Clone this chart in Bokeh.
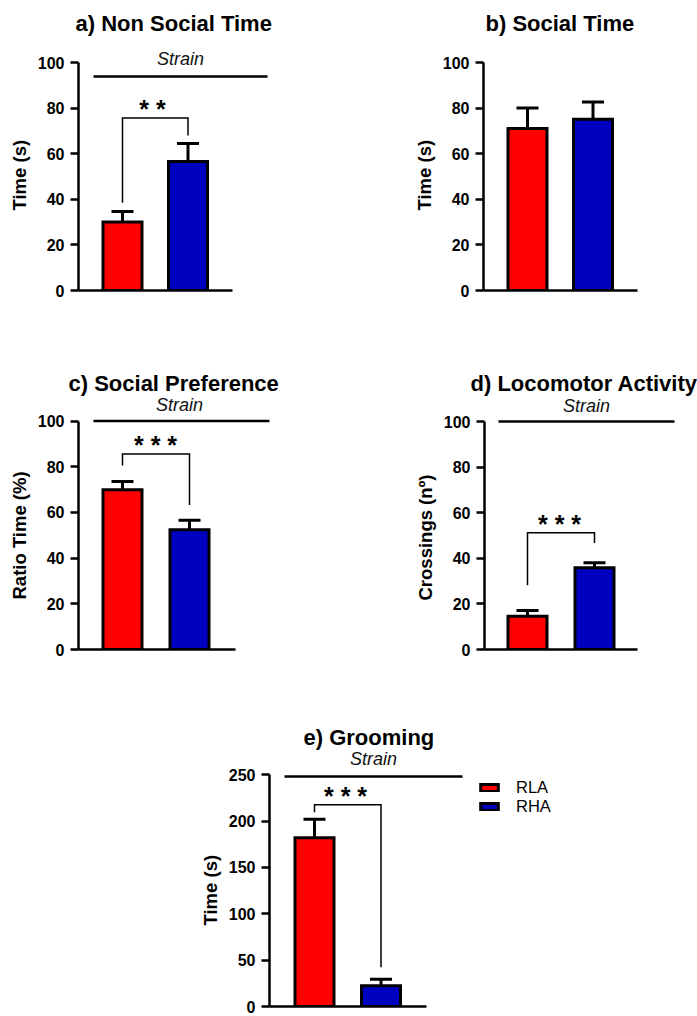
from bokeh.plotting import figure
from bokeh.layouts import column, row
from bokeh.models import FixedTicker, Legend, LegendItem, Range1d, Label, Title
from bokeh.embed import file_html
from bokeh.resources import INLINE

FONT = "Liberation Sans"

strains = ["RLA", "RHA"]
bar_colors = ["#ff0000", "#0000c0"]

# a) Non Social Time
nonsocial_mean = [30.0, 56.6]
nonsocial_sem = [4.6, 7.9]
# b) Social Time
social_mean = [71.1, 75.1]
social_sem = [8.9, 7.6]
# c) Social Preference
pref_mean = [69.9, 52.4]
pref_sem = [3.7, 4.2]
# d) Locomotor Activity
loco_mean = [14.6, 35.9]
loco_sem = [2.5, 2.1]
# e) Grooming
groom_mean = [182.0, 22.5]
groom_sem = [20.0, 7.0]

ticks_100 = [0, 20, 40, 60, 80, 100]
ticks_250 = [0, 50, 100, 150, 200, 250]


def make_panel(title, ylabel, means, sems, ticks, W, H, L, T, Y0, YT, C1, S,
               axis_end, title_left, title_st, ylabel_off, strain=None,
               bracket=None, stars=None, legend=None):
    top_val = ticks[-1]
    k = (Y0 - YT) / top_val
    y_end = (Y0 - T) / k
    x_start = 1 - (C1 - L) / S
    x_end = x_start + (W - L) / S

    def dx(px):
        return 1 + (px - C1) / S

    def dy(py):
        return (Y0 - py) / k

    p = figure(width=W, height=H, x_range=Range1d(x_start, x_end),
               y_range=Range1d(0, y_end), output_backend="svg",
               toolbar_location=None, min_border_left=int(L), min_border_right=0,
               min_border_top=int(T), min_border_bottom=int(H - Y0))
    p.outline_line_color = None
    p.grid.visible = False
    p.background_fill_color = "white"

    p.title.text = title
    p.title.align = "left"
    p.title.offset = title_left - L
    p.title.vertical_align = "bottom"
    p.title.standoff = title_st
    p.title.text_font = FONT
    p.title.text_font_style = "bold"
    p.title.text_font_size = "22px"
    p.title.text_color = "black"

    yax = p.yaxis[0]
    yax.ticker = FixedTicker(ticks=ticks)
    yax.bounds = (0, top_val)
    yax.axis_line_width = 2.5
    yax.axis_line_color = "black"
    yax.major_tick_line_width = 2.5
    yax.major_tick_line_color = "black"
    yax.major_tick_out = 8
    yax.major_tick_in = 0
    yax.minor_tick_line_color = None
    yax.major_label_text_font = FONT
    yax.major_label_text_font_style = "bold"
    yax.major_label_text_font_size = "16px"
    yax.major_label_text_color = "black"
    yax.major_label_standoff = 6

    p.add_layout(Title(text=ylabel, align="left", offset=ylabel_off,
                       vertical_align="bottom", standoff=10, text_font=FONT,
                       text_font_style="bold", text_font_size="18.5px",
                       text_color="black"), "left")

    xax = p.xaxis[0]
    xax.ticker = FixedTicker(ticks=[])
    xax.bounds = (x_start, dx(axis_end))
    xax.axis_line_width = 2.5
    xax.axis_line_color = "black"
    xax.major_tick_line_color = None
    xax.minor_tick_line_color = None
    xax.major_label_text_font_size = "0px"

    renderers = []
    bw = 39.0 / S
    cap = 11.0 / S
    for i, (s, c) in enumerate(zip(strains, bar_colors)):
        x = i + 1
        m = means[i]
        e = sems[i]
        p.segment(x0=[x], y0=[m], x1=[x], y1=[m + e], line_color="black",
                  line_width=3)
        p.segment(x0=[x - cap], y0=[m + e], x1=[x + cap], y1=[m + e],
                  line_color="black", line_width=3)
        r = p.vbar(x=[x], top=[m], bottom=0, width=bw, fill_color=c,
                   line_color="black", line_width=3, line_join="miter")
        renderers.append(r)

    if bracket is not None:
        top, lb, rb = bracket
        p.line(x=[1, 1, 2, 2], y=[lb, top, top, rb], line_color="black",
               line_width=1.5, line_join="miter")
    if stars is not None:
        txt, sx, sy = stars
        p.add_layout(Label(x=dx(sx), y=dy(sy + 5), text=txt,
                           text_align="center", text_baseline="alphabetic",
                           text_font=FONT, text_font_style="bold",
                           text_font_size="25px", text_color="black"))
    if strain is not None:
        x0, x1, yv, tx, ty = strain
        p.segment(x0=[dx(x0)], y0=[yv], x1=[dx(x1)], y1=[yv],
                  line_color="black", line_width=2.5)
        p.add_layout(Label(x=dx(tx), y=dy(ty), text="Strain",
                           text_align="center", text_baseline="middle",
                           text_font=FONT, text_font_style="italic",
                           text_font_size="18px", text_color="#111111"))

    if legend is not None:
        leg = Legend(items=[LegendItem(label=s, renderers=[r])
                            for s, r in zip(strains, renderers)],
                     location=legend, orientation="vertical",
                     glyph_width=22, glyph_height=9, label_standoff=16,
                     label_text_font=FONT, label_text_font_size="16.5px",
                     label_text_color="black", label_height=16,
                     padding=0, margin=0, spacing=0,
                     border_line_color=None, background_fill_alpha=0)
        p.add_layout(leg)
    return p


pa = make_panel("a) Non Social Time", "Time (s)", nonsocial_mean, nonsocial_sem,
                ticks_100, W=348, H=330, L=78, T=44, Y0=290, YT=62, C1=122,
                S=65.5, axis_end=232, title_left=75, title_st=16.8,
                ylabel_off=80, strain=(93, 267, 93.9, 180, 58),
                bracket=(75.7, 38.5, 68), stars=("* *", 152, 103))
pb = make_panel("b) Social Time", "Time (s)", social_mean, social_sem,
                ticks_100, W=349, H=330, L=135, T=44, Y0=290, YT=62, C1=179,
                S=65.5, axis_end=289, title_left=137, title_st=16.8,
                ylabel_off=80)
pc = make_panel("c) Social Preference", "Ratio Time (%)", pref_mean, pref_sem,
                ticks_100, W=348, H=360, L=78, T=66, Y0=323, YT=91, C1=122,
                S=67, axis_end=235, title_left=68, title_st=0.8,
                ylabel_off=50, strain=(93, 269, 100, 179, 75),
                bracket=(85.6, 80.6, 63.3), stars=("* * *", 155, 110))
pd_ = make_panel("d) Locomotor Activity", "Crossings (nº)", loco_mean, loco_sem,
                 ticks_100, W=349, H=360, L=136, T=66, Y0=319, YT=91, C1=179,
                 S=67, axis_end=289, title_left=122, title_st=0.8,
                 ylabel_off=49, strain=(150, 326, 100, 238, 75),
                 bracket=(51.2, 28.2, 46.7), stars=("* * *", 211, 188))
pe = make_panel("e) Grooming", "Time (s)", groom_mean, groom_sem,
                ticks_250, W=697, H=326, L=269, T=60, Y0=316, YT=84.3, C1=314,
                S=66.5, axis_end=426, title_left=303, title_st=0.8,
                ylabel_off=81, strain=(284, 462, 248.2, 373, 68),
                bracket=(217.6, 209.6, 42.4), stars=("* * *", 345, 100),
                legend=(209, 190))

layout = column(row(pa, pb, spacing=0), row(pc, pd_, spacing=0), pe, spacing=0)
open("out.html", "w").write(file_html(layout, INLINE))
